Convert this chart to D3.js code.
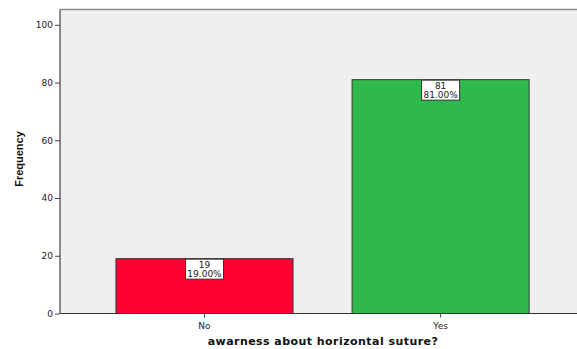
<!DOCTYPE html>
<html>
<head>
<meta charset="utf-8">
<script src="https://cdn.jsdelivr.net/npm/d3@7"></script>
<style>
  html, body { margin: 0; padding: 0; background: #fff; }
  svg { display: block; font-family: "DejaVu Sans", Verdana, sans-serif; }
</style>
</head>
<body>
<svg id="chart" width="577" height="349"></svg>
<script>
// Responses to "awarness about horizontal suture?"
const categories = ["No", "Yes"];
const counts = [19, 81];
const percents = ["19.00%", "81.00%"];
const barColors = ["#ff0033", "#2fb84b"];
const yTicks = [0, 20, 40, 60, 80, 100];

const svg = d3.select("#chart");
const plot = { left: 60, top: 9.5, right: 577, bottom: 313.5 };
const font = "DejaVu Sans, Verdana, sans-serif";

const y = d3.scaleLinear().domain([0, 105.3]).range([plot.bottom, plot.top]);
const x = d3.scaleBand()
  .domain(categories)
  .range([plot.left, 585.1])
  .paddingInner(0.25)
  .paddingOuter(0.237);

// Plot background
svg.append("rect")
  .attr("x", plot.left).attr("y", plot.top)
  .attr("width", plot.right - plot.left).attr("height", plot.bottom - plot.top)
  .attr("fill", "#efefef");

// Top frame line
svg.append("line")
  .attr("x1", plot.left).attr("x2", plot.right)
  .attr("y1", plot.top).attr("y2", plot.top)
  .attr("stroke", "#8c8c8c").attr("stroke-width", 1.5);

// Bars
svg.selectAll("rect.bar")
  .data(categories)
  .join("rect")
  .attr("class", "bar")
  .attr("x", d => x(d))
  .attr("width", x.bandwidth())
  .attr("y", (d, i) => y(counts[i]))
  .attr("height", (d, i) => y(0) - y(counts[i]))
  .attr("fill", (d, i) => barColors[i])
  .attr("stroke", "#3a3a3a")
  .attr("stroke-width", 1);

// Value labels in boxes
const lab = svg.selectAll("g.lab")
  .data(categories)
  .join("g")
  .attr("class", "lab")
  .attr("transform", (d, i) => `translate(${x(d) + x.bandwidth() / 2},${y(counts[i])})`);
lab.append("rect")
  .attr("x", -19).attr("y", 0.5)
  .attr("width", 38).attr("height", 20)
  .attr("fill", "#fff").attr("stroke", "#333").attr("stroke-width", 1);
lab.append("text")
  .attr("y", 9).attr("text-anchor", "middle")
  .attr("font-size", 9).attr("fill", "#222").attr("font-family", font)
  .text((d, i) => counts[i]);
lab.append("text")
  .attr("y", 18.5).attr("text-anchor", "middle")
  .attr("font-size", 9).attr("fill", "#222").attr("font-family", font)
  .text((d, i) => percents[i]);

// Y axis
const yAxis = svg.append("g")
  .attr("transform", `translate(${plot.left},0)`)
  .call(d3.axisLeft(y).tickValues(yTicks).tickSize(5).tickSizeOuter(0));
yAxis.select(".domain").attr("stroke", "#666").attr("stroke-width", 1.5)
  .attr("d", `M0,${plot.top}V${plot.bottom}`);
yAxis.selectAll(".tick line").attr("stroke", "#444").attr("stroke-width", 1);
yAxis.selectAll(".tick text").attr("font-size", 9).attr("fill", "#222")
  .attr("font-family", font).attr("dx", 1);

// X axis
const xAxis = svg.append("g")
  .attr("transform", `translate(0,${plot.bottom})`)
  .call(d3.axisBottom(x).tickSize(4).tickSizeOuter(0));
xAxis.select(".domain").attr("stroke", "#333").attr("stroke-width", 1.2)
  .attr("d", `M${plot.left},0H${plot.right}`);
xAxis.selectAll(".tick line").attr("stroke", "#444");
xAxis.selectAll(".tick text").attr("font-size", 9).attr("fill", "#222")
  .attr("font-family", font).attr("dy", "0.9em");

// Axis titles
svg.append("text")
  .attr("x", 323).attr("y", 345)
  .attr("text-anchor", "middle")
  .attr("font-size", 11).attr("font-weight", "bold").attr("fill", "#111")
  .attr("font-family", font).attr("letter-spacing", 0.45)
  .text("awarness about horizontal suture?");
svg.append("text")
  .attr("transform", "translate(23,159) rotate(-90)")
  .attr("text-anchor", "middle")
  .attr("font-size", 11).attr("font-weight", "bold").attr("fill", "#111")
  .attr("font-family", "Liberation Sans, Arial, sans-serif")
  .text("Frequency");
</script>
</body>
</html>
